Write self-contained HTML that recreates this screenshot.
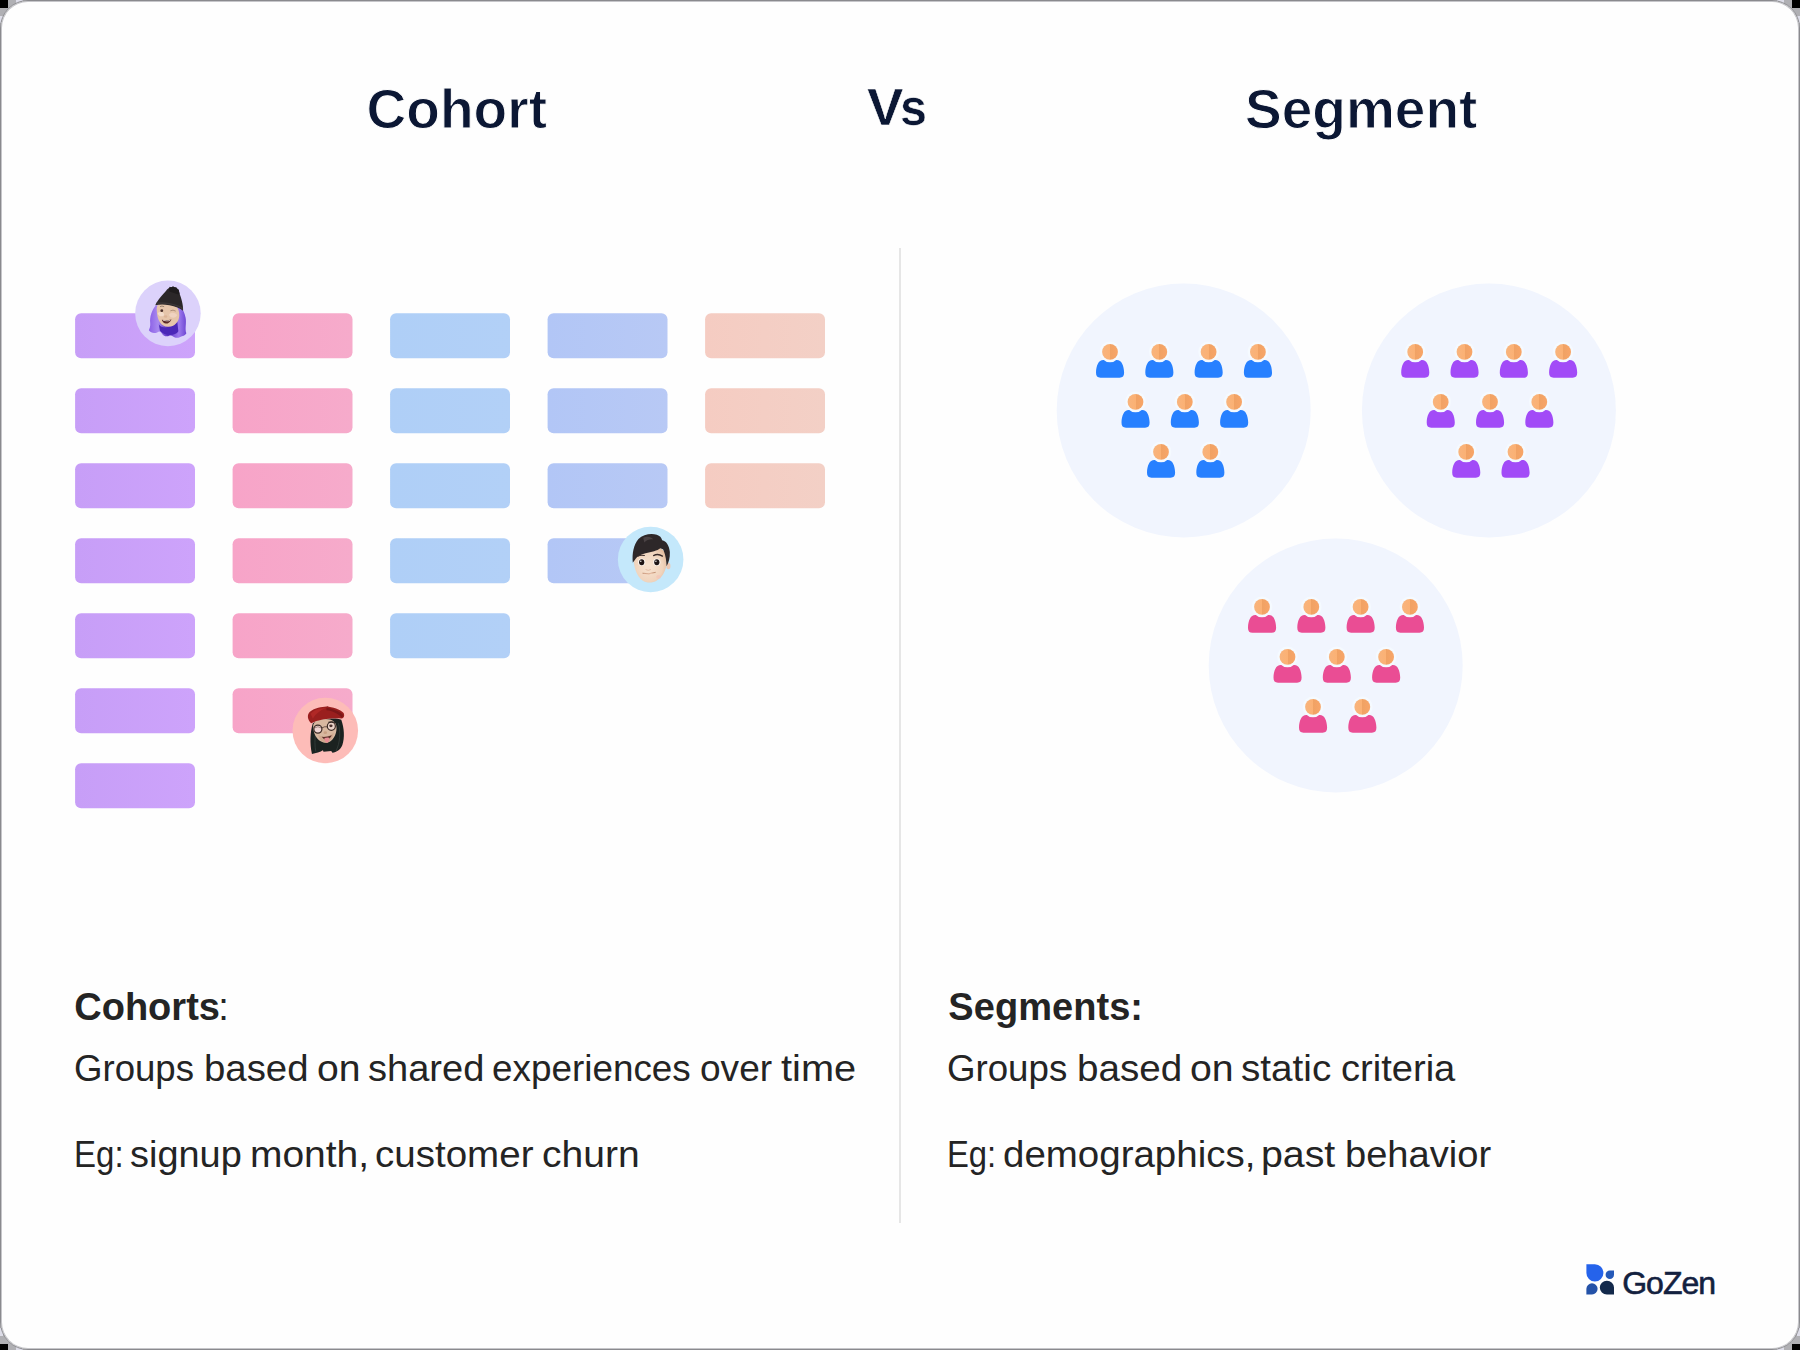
<!DOCTYPE html>
<html><head><meta charset="utf-8">
<style>
html,body{margin:0;padding:0;}
body{width:1800px;height:1350px;overflow:hidden;background:#b0b0b4;position:relative;font-family:"Liberation Sans",sans-serif;}
.blk{position:absolute;width:8px;height:8px;background:#000;}
#card{position:absolute;left:0;top:0;width:1800px;height:1350px;box-sizing:border-box;background:#fefefe;border:1px solid #8a8a8e;border-radius:28px;box-shadow:inset 0 0 0 1px #c6c6ca;}
.lb{position:absolute;background:#dddde8;}
.t{position:absolute;white-space:nowrap;line-height:1;}
.title{color:#0b1734;font-weight:bold;font-size:55px;-webkit-text-stroke:1px #fefefe;}
.bd{color:#242424;font-size:36px;}
.bb{color:#242424;font-size:38px;font-weight:bold;}
.r{position:absolute;width:120px;height:45px;border-radius:6px;}
.c1{background:linear-gradient(90deg,#c79ef7,#cda3fb);}
.c2{background:linear-gradient(90deg,#f7a4c8,#f6abcb);}
.c3{background:linear-gradient(90deg,#afcff7,#b2d0f7);}
.c4{background:linear-gradient(90deg,#b2c6f6,#b8c9f5);}
.c5{background:linear-gradient(90deg,#f5ccc2,#f3d0c6);}
#div{position:absolute;left:899px;top:248px;width:2px;height:975px;background:#e6e6e6;}
svg{position:absolute;left:0;top:0;overflow:visible;}
</style></head><body>
<div class="blk" style="left:0;top:0"></div><div class="blk" style="right:0;top:0"></div>
<div class="blk" style="left:0;bottom:0;height:6px"></div><div class="blk" style="right:0;bottom:0;height:6px"></div>
<div class="lb" style="left:16px;top:0;width:7px;height:3px"></div><div class="lb" style="left:0;top:16px;width:3px;height:7px"></div>
<div class="lb" style="right:16px;top:0;width:7px;height:3px"></div><div class="lb" style="right:0;top:16px;width:3px;height:7px"></div>
<div class="lb" style="left:16px;bottom:0;width:7px;height:3px"></div><div class="lb" style="left:0;bottom:14px;width:3px;height:8px"></div>
<div class="lb" style="right:16px;bottom:0;width:7px;height:3px"></div><div class="lb" style="right:0;bottom:14px;width:3px;height:8px"></div>
<div id="card"></div>

<div class="t title" style="left:366.4px;top:82.0px;letter-spacing:0.1px">Cohort</div>
<div class="t title" style="left:867.4px;top:82.2px;font-size:51.5px;-webkit-text-stroke:0.5px #fefefe;transform-origin:0 0;transform:scaleX(1.06)">V</div>
<div class="t title" style="left:899.5px;top:82.2px;font-size:51.5px;-webkit-text-stroke:0.5px #fefefe;transform-origin:0 0;transform:scaleX(0.94)">s</div>
<div class="t title" style="left:1245.1px;top:82.0px;letter-spacing:0px">Segment</div>

<svg width="1800" height="1350" viewBox="0 0 1800 1350"><defs><linearGradient id="gc1" x1="0" x2="1" y1="0" y2="0"><stop offset="0" stop-color="#c79ef7"/><stop offset="1" stop-color="#cda3fb"/></linearGradient><linearGradient id="gc2" x1="0" x2="1" y1="0" y2="0"><stop offset="0" stop-color="#f7a4c8"/><stop offset="1" stop-color="#f6abcb"/></linearGradient><linearGradient id="gc3" x1="0" x2="1" y1="0" y2="0"><stop offset="0" stop-color="#afcff7"/><stop offset="1" stop-color="#b2d0f7"/></linearGradient><linearGradient id="gc4" x1="0" x2="1" y1="0" y2="0"><stop offset="0" stop-color="#b2c6f6"/><stop offset="1" stop-color="#b8c9f5"/></linearGradient><linearGradient id="gc5" x1="0" x2="1" y1="0" y2="0"><stop offset="0" stop-color="#f5ccc2"/><stop offset="1" stop-color="#f3d0c6"/></linearGradient></defs>
<rect x="75.1" y="313.35" width="119.9" height="45" rx="6" fill="url(#gc1)"/>
<rect x="75.1" y="388.35" width="119.9" height="45" rx="6" fill="url(#gc1)"/>
<rect x="75.1" y="463.35" width="119.9" height="45" rx="6" fill="url(#gc1)"/>
<rect x="75.1" y="538.35" width="119.9" height="45" rx="6" fill="url(#gc1)"/>
<rect x="75.1" y="613.35" width="119.9" height="45" rx="6" fill="url(#gc1)"/>
<rect x="75.1" y="688.35" width="119.9" height="45" rx="6" fill="url(#gc1)"/>
<rect x="75.1" y="763.35" width="119.9" height="45" rx="6" fill="url(#gc1)"/>
<rect x="232.6" y="313.35" width="119.9" height="45" rx="6" fill="url(#gc2)"/>
<rect x="232.6" y="388.35" width="119.9" height="45" rx="6" fill="url(#gc2)"/>
<rect x="232.6" y="463.35" width="119.9" height="45" rx="6" fill="url(#gc2)"/>
<rect x="232.6" y="538.35" width="119.9" height="45" rx="6" fill="url(#gc2)"/>
<rect x="232.6" y="613.35" width="119.9" height="45" rx="6" fill="url(#gc2)"/>
<rect x="232.6" y="688.35" width="119.9" height="45" rx="6" fill="url(#gc2)"/>
<rect x="390.1" y="313.35" width="119.9" height="45" rx="6" fill="url(#gc3)"/>
<rect x="390.1" y="388.35" width="119.9" height="45" rx="6" fill="url(#gc3)"/>
<rect x="390.1" y="463.35" width="119.9" height="45" rx="6" fill="url(#gc3)"/>
<rect x="390.1" y="538.35" width="119.9" height="45" rx="6" fill="url(#gc3)"/>
<rect x="390.1" y="613.35" width="119.9" height="45" rx="6" fill="url(#gc3)"/>
<rect x="547.6" y="313.35" width="119.9" height="45" rx="6" fill="url(#gc4)"/>
<rect x="547.6" y="388.35" width="119.9" height="45" rx="6" fill="url(#gc4)"/>
<rect x="547.6" y="463.35" width="119.9" height="45" rx="6" fill="url(#gc4)"/>
<rect x="547.6" y="538.35" width="119.9" height="45" rx="6" fill="url(#gc4)"/>
<rect x="705.1" y="313.35" width="119.9" height="45" rx="6" fill="url(#gc5)"/>
<rect x="705.1" y="388.35" width="119.9" height="45" rx="6" fill="url(#gc5)"/>
<rect x="705.1" y="463.35" width="119.9" height="45" rx="6" fill="url(#gc5)"/>
</svg>

<div id="div"></div>

<svg width="1800" height="1350" viewBox="0 0 1800 1350">
<defs>
<linearGradient id="hd" x1="0" x2="1" y1="0" y2="0">
<stop offset="0" stop-color="#f8b47d"/><stop offset="0.5" stop-color="#fbb174"/><stop offset="0.5" stop-color="#f0a264"/><stop offset="1" stop-color="#f8a568"/>
</linearGradient>
<symbol id="person" width="29" height="35" viewBox="0 0 29 35" overflow="visible">
<path d="M4.6 33.8 C1.5 33.8 0 32 0.1 28.6 C0.3 21.5 2.6 16 7.4 16 L20.9 16 C25.7 16 28 21.5 28.2 28.6 C28.3 32 26.8 33.8 23.7 33.8 Z"/>
<circle cx="14.1" cy="7.9" r="10.3" fill="#f5faff"/>
<circle cx="14.1" cy="7.9" r="7.9" fill="url(#hd)"/>
</symbol>
</defs>
<circle cx="1183.7" cy="410.5" r="127" fill="#f1f5fe"/>
<circle cx="1488.9" cy="410.5" r="127" fill="#f1f5fe"/>
<circle cx="1335.7" cy="665.5" r="127" fill="#f1f5fe"/>
<use href="#person" x="1095.9" y="344.0" fill="#2780ff"/>
<use href="#person" x="1145.2" y="344.0" fill="#2780ff"/>
<use href="#person" x="1194.5" y="344.0" fill="#2780ff"/>
<use href="#person" x="1243.8" y="344.0" fill="#2780ff"/>
<use href="#person" x="1121.4" y="394.0" fill="#2780ff"/>
<use href="#person" x="1170.7" y="394.0" fill="#2780ff"/>
<use href="#person" x="1220.0" y="394.0" fill="#2780ff"/>
<use href="#person" x="1146.9" y="444.0" fill="#2780ff"/>
<use href="#person" x="1196.2" y="444.0" fill="#2780ff"/>
<use href="#person" x="1401.1" y="344.0" fill="#a24bf7"/>
<use href="#person" x="1450.4" y="344.0" fill="#a24bf7"/>
<use href="#person" x="1499.7" y="344.0" fill="#a24bf7"/>
<use href="#person" x="1549.0" y="344.0" fill="#a24bf7"/>
<use href="#person" x="1426.6" y="394.0" fill="#a24bf7"/>
<use href="#person" x="1475.9" y="394.0" fill="#a24bf7"/>
<use href="#person" x="1525.2" y="394.0" fill="#a24bf7"/>
<use href="#person" x="1452.1" y="444.0" fill="#a24bf7"/>
<use href="#person" x="1501.4" y="444.0" fill="#a24bf7"/>
<use href="#person" x="1247.9" y="599.0" fill="#ea4d94"/>
<use href="#person" x="1297.2" y="599.0" fill="#ea4d94"/>
<use href="#person" x="1346.5" y="599.0" fill="#ea4d94"/>
<use href="#person" x="1395.8" y="599.0" fill="#ea4d94"/>
<use href="#person" x="1273.4" y="649.0" fill="#ea4d94"/>
<use href="#person" x="1322.7" y="649.0" fill="#ea4d94"/>
<use href="#person" x="1372.0" y="649.0" fill="#ea4d94"/>
<use href="#person" x="1298.9" y="699.0" fill="#ea4d94"/>
<use href="#person" x="1348.2" y="699.0" fill="#ea4d94"/>

</svg>

<!-- avatar 1: purple hair, black beanie. region [128,272]-[208,352] -->
<svg style="left:128px;top:272px" width="80" height="80" viewBox="0 0 1350 1350">
<defs>
<linearGradient id="ph" x1="0" x2="1" y1="0" y2="0"><stop offset="0" stop-color="#8a5fe6"/><stop offset="0.25" stop-color="#a98af0"/><stop offset="0.5" stop-color="#5b34c4"/><stop offset="0.8" stop-color="#9d7aee"/><stop offset="1" stop-color="#6d45d2"/></linearGradient>
</defs>
<circle cx="674" cy="698" r="553" fill="#dcd2fb"/>
<!-- hair back -->
<path d="M470 560 C400 640 365 760 375 860 C380 920 365 950 352 985 C390 1035 450 1040 500 1015 C520 1000 545 1000 560 1020 C590 1075 640 1100 690 1078 C720 1068 740 1075 760 1090 C800 1120 850 1115 880 1095 C920 1085 965 1075 985 1035 C955 960 990 860 972 770 C955 700 935 640 890 600 Z" fill="url(#ph)"/>
<path d="M520 880 C560 960 760 960 830 830 L850 1000 C800 1090 600 1080 540 990 Z" fill="#4b28b8"/>
<!-- face -->
<path d="M485 640 C480 520 560 500 680 520 C800 540 870 600 865 740 C860 850 780 930 670 925 C560 920 490 820 485 640 Z" fill="#e6c5aa"/>
<path d="M500 700 C520 660 600 660 610 720 C600 760 520 760 500 700 Z" fill="#f3dccb"/>
<path d="M690 720 C720 670 810 680 830 730 C800 790 710 780 690 720 Z" fill="#f0d2c0"/>
<!-- eye + wink -->
<ellipse cx="570" cy="652" rx="24" ry="22" fill="#4a2f2a"/>
<path d="M715 655 Q760 630 805 660" stroke="#8a6a5a" stroke-width="10" fill="none"/>
<path d="M540 585 Q570 565 610 585" stroke="#7a6a58" stroke-width="12" fill="none"/>
<!-- nose -->
<ellipse cx="635" cy="750" rx="28" ry="20" fill="#dcb498"/>
<!-- mouth -->
<path d="M570 805 Q650 820 735 800 Q700 870 640 870 Q590 865 570 805 Z" fill="#5a2a28"/>
<path d="M590 812 Q650 826 715 810 L710 822 Q650 838 595 824 Z" fill="#f4ece6"/>
<!-- hat -->
<path d="M462 560 C470 520 560 400 640 320 C660 290 700 255 760 250 C820 255 870 300 868 360 C900 440 935 560 930 655 C880 610 800 575 700 560 C600 545 520 550 462 560 Z" fill="#2b2728"/>
<path d="M690 275 L705 250 L730 262 L760 240 L785 262 L815 258 L830 290 L860 300 L855 335 L875 360 L850 380 L700 330 Z" fill="#1f1c1d"/>
<path d="M470 545 C560 525 700 540 800 575 C860 595 905 625 928 650 L925 600 C880 570 800 540 700 522 C600 505 520 510 480 520 Z" fill="#3a3536"/>
</svg>

<!-- avatar 2: boy, dark hair. region [610,520]-[690,600] -->
<svg style="left:610px;top:520px" width="80" height="80" viewBox="0 0 1350 1350">
<defs>
<radialGradient id="sk2" cx="0.45" cy="0.55" r="0.6"><stop offset="0" stop-color="#f8e4d2"/><stop offset="0.7" stop-color="#f0d4bd"/><stop offset="1" stop-color="#e2bb9e"/></radialGradient>
</defs>
<circle cx="686" cy="665" r="553" fill="#c4e8fb"/>
<!-- ear -->
<ellipse cx="985" cy="775" rx="35" ry="55" fill="#ecc8b4"/>
<!-- face -->
<path d="M400 640 C400 500 520 440 680 440 C850 440 960 520 960 680 C960 820 900 960 790 1020 C720 1065 620 1070 550 1020 C450 950 400 800 400 640 Z" fill="url(#sk2)"/>
<!-- hair -->
<path d="M385 720 C370 560 400 420 480 320 C560 240 700 220 790 250 C840 265 870 300 880 340 C950 350 1000 430 1010 540 C1015 640 990 720 955 780 C950 700 945 600 900 500 C880 490 860 480 850 478 C800 520 700 540 600 560 C520 575 460 610 430 660 C410 690 395 710 385 720 Z" fill="#2d2729"/>
<path d="M560 300 C620 270 700 280 730 330 C690 320 620 330 580 380 Z" fill="#4a4244"/>
<!-- eyebrows -->
<path d="M735 600 Q810 560 885 610" stroke="#3a2c2a" stroke-width="22" fill="none" stroke-linecap="round"/>
<path d="M470 610 Q520 585 580 600" stroke="#3a2c2a" stroke-width="18" fill="none" stroke-linecap="round"/>
<!-- eyes -->
<ellipse cx="535" cy="712" rx="62" ry="62" fill="#fbf4ee"/>
<ellipse cx="790" cy="712" rx="62" ry="62" fill="#fbf4ee"/>
<ellipse cx="535" cy="712" rx="44" ry="50" fill="#1e1516"/>
<ellipse cx="790" cy="712" rx="44" ry="50" fill="#1e1516"/>
<circle cx="520" cy="695" r="12" fill="#fff"/><circle cx="775" cy="695" r="12" fill="#fff"/>
<!-- nose -->
<ellipse cx="645" cy="815" rx="48" ry="38" fill="#f6dfcd"/>
<path d="M600 835 Q645 865 690 835" stroke="#d9b095" stroke-width="12" fill="none"/>
<!-- mouth -->
<path d="M555 900 Q650 925 765 885" stroke="#c08e70" stroke-width="16" fill="none" stroke-linecap="round"/>
<path d="M560 905 Q650 935 755 895 Q660 905 560 905 Z" fill="#f3cdb5"/>
<ellipse cx="820" cy="960" rx="40" ry="30" fill="#f4c3b6" opacity="0.7"/>
</svg>

<!-- avatar 3: girl, red beret, glasses. region [285,690]-[365,770] -->
<svg style="left:285px;top:690px" width="80" height="80" viewBox="0 0 1350 1350">
<circle cx="680" cy="685" r="553" fill="#fdbcb8"/>
<!-- hair back -->
<path d="M470 560 C425 700 415 900 455 1078 C520 1068 600 1040 640 1015 L650 1040 L780 1028 L800 1058 C870 1055 935 1010 968 930 C1010 800 1000 640 950 500 C850 460 600 480 470 560 Z" fill="#1b2220"/>
<path d="M520 700 C500 820 500 950 520 1040" stroke="#3f4a47" stroke-width="10" fill="none"/>
<path d="M900 560 C940 700 930 900 860 1030" stroke="#39423f" stroke-width="12" fill="none"/>
<!-- face -->
<path d="M475 620 C470 540 560 490 680 490 C800 490 870 540 870 640 C870 760 800 880 700 890 C580 895 480 780 475 620 Z" fill="#d8b8a0"/>
<path d="M560 760 C620 800 760 790 820 720 C810 820 760 880 700 890 C620 890 580 830 560 760 Z" fill="#cfa88e"/>
<!-- glasses -->
<circle cx="555" cy="660" r="68" fill="#efd5d2" stroke="#3b2a25" stroke-width="20"/>
<circle cx="782" cy="612" r="68" fill="#ead3c8" stroke="#3b2a25" stroke-width="20"/>
<path d="M620 640 Q670 610 717 622" stroke="#3b2a25" stroke-width="12" fill="none"/>
<path d="M500 640 Q555 600 610 640" stroke="#6b4a44" stroke-width="10" fill="none"/>
<ellipse cx="775" cy="605" rx="28" ry="24" fill="#4a302c"/>
<path d="M730 545 Q790 520 845 550" stroke="#2a2220" stroke-width="16" fill="none"/>
<!-- nose/mouth/tongue -->
<ellipse cx="680" cy="720" rx="30" ry="22" fill="#c9a084"/>
<path d="M620 790 Q700 800 790 765 Q760 830 700 840 Q650 840 620 790 Z" fill="#5a2f2a"/>
<path d="M665 810 Q705 800 745 805 Q750 880 710 890 Q670 885 665 810 Z" fill="#e98c94"/>
<!-- beret -->
<path d="M440 562 C378 500 368 420 420 368 C500 300 620 285 700 278 C800 283 935 328 990 390 C1010 435 995 470 962 482 C880 470 760 472 650 495 C560 514 490 538 440 562 Z" fill="#9a1f1e"/>
<path d="M700 275 L720 268 L735 285 Z" fill="#7a1616"/>
<path d="M700 300 C800 310 900 350 970 410 C985 440 975 455 960 465 C900 400 800 350 700 340 Z" fill="#7d1718"/>
<path d="M430 400 C500 330 600 310 690 305 C600 340 520 400 470 480 Z" fill="#b02826"/>
</svg>


<div class="t bb" style="left:74.2px;top:987.8px;letter-spacing:0.02px">Cohorts<span style="font-weight:normal;margin-left:-1.8px">:</span></div>

<div class="t bb" style="left:948.3px;top:987.8px;letter-spacing:0.05px">Segments:</div>

<div class="t bd" style="left:74.2px;top:1050.9px;transform-origin:0 0;transform:scaleX(1.0165)">Groups</div>
<div class="t bd" style="left:203.8px;top:1050.9px;transform-origin:0 0;transform:scaleX(1.0652)">based</div>
<div class="t bd" style="left:316.9px;top:1050.9px;transform-origin:0 0;transform:scaleX(1.0869)">on</div>
<div class="t bd" style="left:368.4px;top:1050.9px;transform-origin:0 0;transform:scaleX(1.0567)">shared</div>
<div class="t bd" style="left:492.4px;top:1050.9px;transform-origin:0 0;transform:scaleX(1.0238)">experiences</div>
<div class="t bd" style="left:699.6px;top:1050.9px;transform-origin:0 0;transform:scaleX(1.0294)">over</div>
<div class="t bd" style="left:781.2px;top:1050.9px;transform-origin:0 0;transform:scaleX(1.1045)">time</div>
<div class="t bd" style="left:74.1px;top:1136.5px;transform-origin:0 0;transform:scaleX(0.9173)">Eg:</div>
<div class="t bd" style="left:130.2px;top:1136.5px;transform-origin:0 0;transform:scaleX(1.0531)">signup</div>
<div class="t bd" style="left:249.6px;top:1136.5px;transform-origin:0 0;transform:scaleX(1.0820)">month,</div>
<div class="t bd" style="left:374.6px;top:1136.5px;transform-origin:0 0;transform:scaleX(1.0705)">customer</div>
<div class="t bd" style="left:542.2px;top:1136.5px;transform-origin:0 0;transform:scaleX(1.0841)">churn</div>
<div class="t bd" style="left:947.1px;top:1050.9px;transform-origin:0 0;transform:scaleX(1.0183)">Groups</div>
<div class="t bd" style="left:1076.5px;top:1050.9px;transform-origin:0 0;transform:scaleX(1.0727)">based</div>
<div class="t bd" style="left:1189.9px;top:1050.9px;transform-origin:0 0;transform:scaleX(1.0897)">on</div>
<div class="t bd" style="left:1241.4px;top:1050.9px;transform-origin:0 0;transform:scaleX(1.0744)">static</div>
<div class="t bd" style="left:1341.4px;top:1050.9px;transform-origin:0 0;transform:scaleX(1.0582)">criteria</div>
<div class="t bd" style="left:947.0px;top:1136.5px;transform-origin:0 0;transform:scaleX(0.9110)">Eg:</div>
<div class="t bd" style="left:1002.9px;top:1136.5px;transform-origin:0 0;transform:scaleX(1.0687)">demographics,</div>
<div class="t bd" style="left:1261.3px;top:1136.5px;transform-origin:0 0;transform:scaleX(1.0916)">past</div>
<div class="t bd" style="left:1344.8px;top:1136.5px;transform-origin:0 0;transform:scaleX(1.0580)">behavior</div>

<svg width="1800" height="1350" viewBox="0 0 1800 1350">
<path d="M1586.4 1264.2 L1594.9 1264.2 A8.5 8.7 0 0 1 1603.4 1272.9 A8.5 8.7 0 0 1 1594.9 1281.6 A8.5 8.7 0 0 1 1586.4 1272.9 Z" fill="#2563eb"/>
<path d="M1614 1270.4 L1614 1274.65 A4.2 4.25 0 0 1 1609.8 1278.9 A4.2 4.25 0 0 1 1605.6 1274.65 A4.2 4.25 0 0 1 1609.8 1270.4 Z" fill="#2559b8"/>
<path d="M1586.4 1294.4 L1586.4 1288.85 A5.6 5.55 0 0 1 1592 1283.3 A5.6 5.55 0 0 1 1597.6 1288.85 A5.6 5.55 0 0 1 1592 1294.4 Z" fill="#2452a8"/>
<path d="M1614 1294.4 L1606.9 1294.4 A7.1 6.85 0 0 1 1599.8 1287.55 A7.1 6.85 0 0 1 1606.9 1280.7 A7.1 6.85 0 0 1 1614 1287.55 Z" fill="#13294b"/>
</svg>
<div class="t" style="left:1622.2px;top:1266.9px;font-size:32px;color:#13213f;letter-spacing:-1px;-webkit-text-stroke:0.6px #13213f">GoZen</div>

</body></html>
